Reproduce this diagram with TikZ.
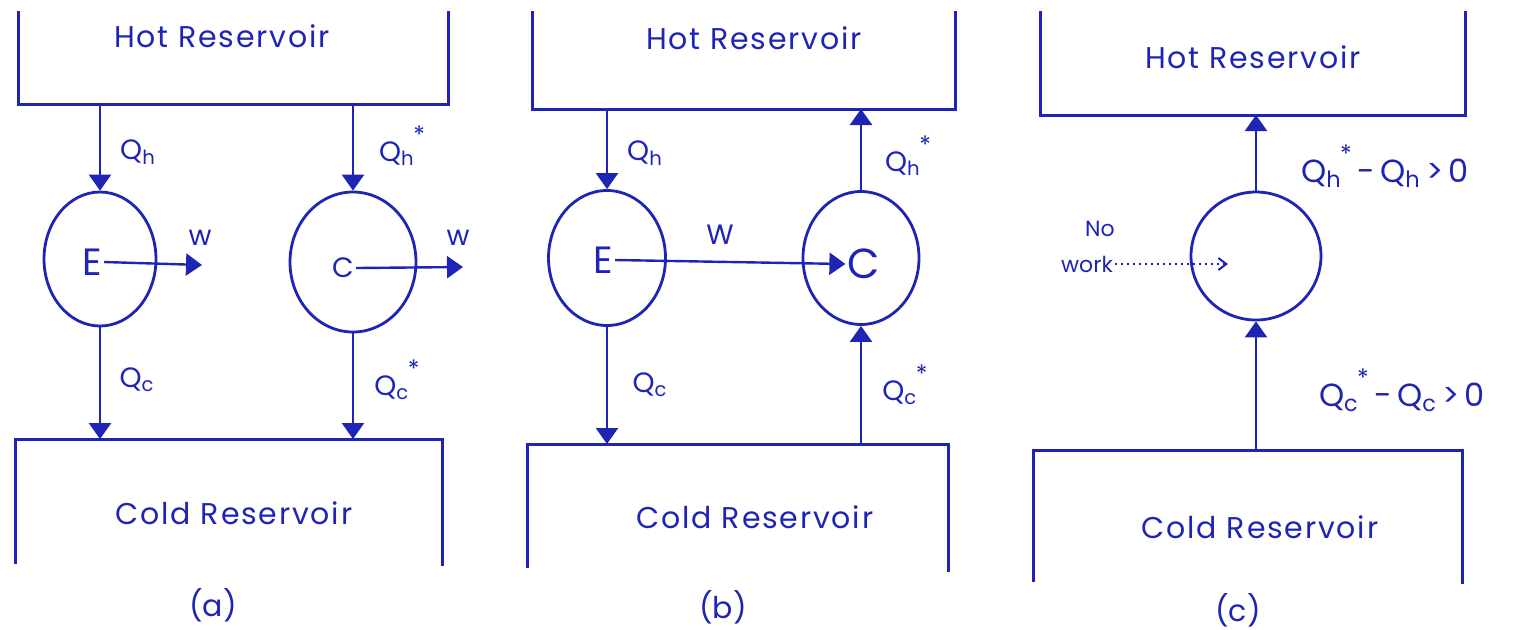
\documentclass[tikz,border=0pt]{standalone}
\usepackage{fontspec}
\setmainfont{Poppins}
\usetikzlibrary{arrows.meta,shapes.geometric}
\definecolor{ink}{RGB}{30,36,180}
\newcommand{\QQ}[2]{Q\textsubscript{#1}\kern-0.05em\raisebox{0.62em}{\large*}}
\begin{document}
\begin{tikzpicture}[x=0.5pt,y=-0.5pt,
  every node/.style={text=ink},
  resbox/.style={draw=ink,line width=1.5pt},
  restext/.style={font=\fontsize{15}{17}\selectfont\addfontfeature{LetterSpace=6}},
  eng/.style={draw=ink,ellipse,line width=1.4pt,inner sep=0pt},
  lab/.style={font=\fontsize{14}{16}\selectfont},
  biglab/.style={font=\fontsize{16}{18}\selectfont},
  letter/.style={font=\fontsize{19}{21}\selectfont,inner sep=1pt},
  arr/.style={draw=ink,line width=1.2pt,-{Triangle[width=11pt,length=8pt]}},
  captext/.style={font=\fontsize{15}{17}\selectfont}]
\useasboundingbox (0,0) rectangle (1520,629);

% ---------------- (a) ----------------
\draw[resbox] (18,11) |- (448,104) -- (448,11);
\node[restext] (aHot) at (222,36) {Hot Reservoir};
\coordinate (aH1) at (100,104);
\coordinate (aH2) at (353,104);
\node[eng,minimum width=56pt,minimum height=67pt] (Ea) at (100,259) {};
\node[eng,minimum width=63pt,minimum height=70pt] (Ca) at (353,262) {};
\node[letter] (Eal) at (92,262) {E};
\node[font=\fontsize{14}{16}\selectfont,inner sep=1pt] (Cal) at (343,268) {C};
\coordinate (wa1) at (202,265);
\coordinate (wa2) at (463,267);
\draw[arr] (Eal.east) -- (wa1);
\draw[arr] (Cal.east) -- (wa2);
\node[lab] (wla) at (200,238) {w};
\node[lab] (wlb) at (458,238) {w};
\draw[resbox] (15,564) |- (442,439) -- (442,566);
\coordinate (aC1) at (100,439);
\coordinate (aC2) at (353,439);
\draw[arr] (aH1) -- (Ea.north);
\draw[arr] (aH2) -- (Ca.north);
\draw[arr] (Ea.south) -- (aC1);
\draw[arr] (Ca.south) -- (aC2);
\node[lab] (aqh) at (138,152) {Q\textsubscript{h}};
\node[lab] (aqhs) at (402,146) {\QQ{h}{*}};
\node[lab] (aqc) at (137,380) {Q\textsubscript{c}};
\node[lab] (aqcs) at (397,380) {\QQ{c}{*}};
\node[restext] (aCold) at (234,513) {Cold Reservoir};
\node[captext] (capa) at (213,605) {(a)};

% ---------------- (b) ----------------
\draw[resbox] (532,11) |- (955,109) -- (955,11);
\node[restext] (bHot) at (754,38) {Hot Reservoir};
\node[eng,minimum width=58.5pt,minimum height=67.5pt] (Eb) at (607,258) {};
\node[eng,minimum width=58pt,minimum height=66.5pt] (Cb) at (861,258) {};
\node[letter] (Ebl) at (603,260) {E};
\node[letter,font=\fontsize{21}{23}\selectfont] (Cbl) at (864,264) {C};
\draw[arr] (Ebl.east) -- (Cbl.west);
\node[lab] (wlc) at (720,235) {W};
\coordinate (bH1) at (607,109);
\coordinate (bH2) at (861,109);
\coordinate (bC1) at (607,444);
\coordinate (bC2) at (861,444);
\draw[arr] (bH1) -- (Eb.north);
\draw[arr] (Cb.north) -- (bH2);
\draw[arr] (Eb.south) -- (bC1);
\draw[arr] (bC2) -- (Cb.south);
\node[lab] (bqh) at (645,153) {Q\textsubscript{h}};
\node[lab] (bqhs) at (908,156) {\QQ{h}{*}};
\node[lab] (bqc) at (650,385) {Q\textsubscript{c}};
\node[lab] (bqcs) at (905,385) {\QQ{c}{*}};
\draw[resbox] (527,568) |- (948,444) -- (948,572);
\node[restext] (bCold) at (755,517) {Cold Reservoir};
\node[captext] (capb) at (723,607) {(b)};

% ---------------- (c) ----------------
\draw[resbox] (1040,11) |- (1465,115) -- (1465,11);
\node[restext] (cHot) at (1253,57) {Hot Reservoir};
\node[eng,minimum width=65pt,minimum height=64pt] (Ec) at (1256,256) {};
\coordinate (cH) at (1256,115);
\coordinate (cC) at (1256,450);
\draw[arr] (Ec.north) -- (cH);
\draw[arr] (cC) -- (Ec.south);
\node[biglab] (cqh) at (1385,166) {\QQ{h}{*}\,-\,Q\textsubscript{h}\,>\,0};
\node[biglab] (cqc) at (1402,390) {\QQ{c}{*}\,-\,Q\textsubscript{c}\,>\,0};
\node[font=\fontsize{11}{13}\selectfont] (no) at (1100,229) {No};
\node[font=\fontsize{11}{13}\selectfont,inner sep=1pt] (work) at (1087,264) {work};
\coordinate (wend) at (1228,264);
\draw[draw=ink,line width=1pt,dotted,-{Straight Barb[length=4pt,width=6pt]}] (work.east) -- (wend);
\draw[resbox] (1033,582) |- (1462,450) -- (1462,584);
\node[restext] (cCold) at (1260,527) {Cold Reservoir};
\node[captext] (capc) at (1238,610) {(c)};
\end{tikzpicture}
\end{document}
